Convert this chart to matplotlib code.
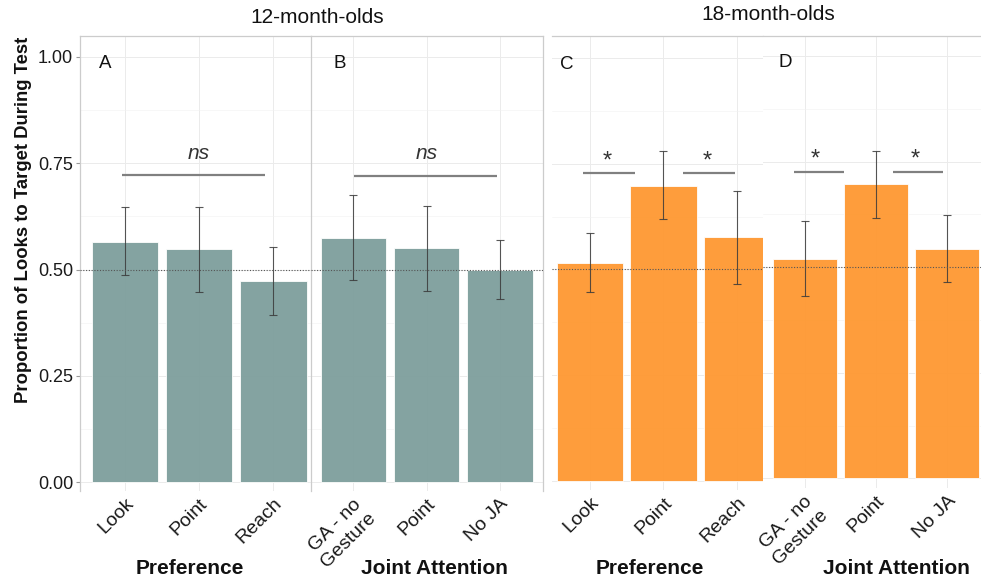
import numpy as np
import matplotlib
matplotlib.use("Agg")
import matplotlib.pyplot as plt
from matplotlib.ticker import MultipleLocator

plt.rcParams['font.family'] = ['Liberation Sans', 'DejaVu Sans']

# ---- data ----
cats_pref = ["Look", "Point", "Reach"]
cats_ja = ["GA - no\nGesture", "Point", "No JA"]

m12_pref = [0.565, 0.547, 0.474]
m12_pref_lo = [0.486, 0.447, 0.394]
m12_pref_hi = [0.646, 0.646, 0.553]

m12_ja = [0.575, 0.550, 0.500]
m12_ja_lo = [0.476, 0.450, 0.430]
m12_ja_hi = [0.674, 0.649, 0.570]

m18_pref = [0.516, 0.698, 0.576]
m18_pref_lo = [0.446, 0.618, 0.465]
m18_pref_hi = [0.587, 0.779, 0.685]

m18_ja = [0.520, 0.696, 0.544]
m18_ja_lo = [0.431, 0.617, 0.464]
m18_ja_hi = [0.610, 0.776, 0.623]

chance = 0.5

TEAL = "#80a09e"
ORANGE = "#fe9a35"
W, H = 981, 578

fig = plt.figure(figsize=(W / 100, H / 100), dpi=100)


def px_axes(x0, y0, x1, y1):
    return fig.add_axes([x0 / W, 1 - y1 / H, (x1 - x0) / W, (y1 - y0) / H])


def panel(ax, cats, means, lo, hi, color, xlim, ylim, letter, letter_x,
          spines=("left", "top", "right"), yticks=False):
    x = np.arange(len(cats))
    ax.set_xlim(xlim)
    ax.set_ylim(ylim)
    ax.yaxis.set_major_locator(MultipleLocator(0.25))
    ax.yaxis.set_minor_locator(MultipleLocator(0.125))
    ax.set_xticks(x)
    ax.grid(True, which="major", color="#ebebeb", lw=0.7, zorder=0)
    ax.grid(True, which="minor", axis="y", color="#f2f2f2", lw=0.4, zorder=0)
    ax.set_axisbelow(True)
    ax.bar(x, means, width=0.9, color=color, edgecolor="#ffffff", lw=0.6,
           alpha=0.97, zorder=2)
    err = [np.array(means) - np.array(lo), np.array(hi) - np.array(means)]
    ax.errorbar(x, means, yerr=err, fmt="none", ecolor="#3a3a3a", elinewidth=0.8,
                capsize=3, capthick=0.8, alpha=0.85, zorder=3)
    ax.axhline(chance, color="#555555", ls=(0, (1, 1.5)), lw=0.8, zorder=4)
    for s in ax.spines:
        ax.spines[s].set_visible(s in spines)
        ax.spines[s].set_color("#cccccc")
        ax.spines[s].set_linewidth(0.9)
    ax.set_xticklabels(cats, rotation=45, ha="right", va="top",
                       rotation_mode="anchor", multialignment="center",
                       fontsize=14, color="#1a1a1a")
    ax.tick_params(axis="x", length=0, pad=3)
    if yticks:
        ax.set_yticks([0, 0.25, 0.5, 0.75, 1.0])
        ax.set_yticklabels(["0.00", "0.25", "0.50", "0.75", "1.00"],
                           fontsize=13, color="#1a1a1a")
        ax.tick_params(axis="y", which="major", length=3, color="#999999", pad=2)
        ax.tick_params(axis="y", which="minor", length=0)
    else:
        ax.tick_params(axis="y", which="both", length=0, labelleft=False)
    ax.text(letter_x, 0.985, letter, fontsize=13.5, ha="center", va="center",
            color="#111111", zorder=6)
    return ax


def sig(ax, x0, x1, y, label, lx, ly, italic=False):
    ax.plot([x0, x1], [y, y], color="#808080", lw=1.6, zorder=5,
            solid_capstyle="butt")
    ax.text(lx, ly, label, ha="center", va="center", zorder=5,
            fontsize=15 if italic else 17, color="#333333",
            style="italic" if italic else "normal")


def xlabel(xc, text):
    fig.text(xc / W, 1 - 574 / H, text, fontsize=15, fontweight="bold",
             ha="center", va="baseline", color="#111111")


axA = px_axes(80, 36, 311, 491)
panel(axA, cats_pref, m12_pref, m12_pref_lo, m12_pref_hi, TEAL,
      (-0.608, 2.51), (-0.0204, 1.0486), "A", -0.27,
      spines=("left", "top"), yticks=True)
sig(axA, -0.04, 1.89, 0.723, "ns", 1.0, 0.773, italic=True)

axB = px_axes(311, 36, 543, 491)
panel(axB, cats_ja, m12_ja, m12_ja_lo, m12_ja_hi, TEAL,
      (-0.58, 2.593), (-0.0204, 1.0486), "B", -0.19)
sig(axB, 0.01, 1.97, 0.719, "ns", 1.0, 0.773, italic=True)

axC = px_axes(552, 36, 763, 490)
panel(axC, cats_pref, m18_pref, m18_pref_lo, m18_pref_hi, ORANGE,
      (-0.517, 2.354), (-0.022, 1.052), "C", -0.31, spines=("top",))
sig(axC, -0.09, 0.61, 0.727, "*", 0.23, 0.755)
sig(axC, 1.27, 1.97, 0.727, "*", 1.60, 0.755)

axD = px_axes(763, 36, 981, 488)
panel(axD, cats_ja, m18_ja, m18_ja_lo, m18_ja_hi, ORANGE,
      (-0.59, 2.48), (-0.0225, 1.047), "D", -0.27, spines=("top",))
sig(axD, -0.16, 0.55, 0.726, "*", 0.15, 0.754)
sig(axD, 1.24, 1.95, 0.726, "*", 1.56, 0.754)

xlabel(190, "Preference")
xlabel(434, "Joint Attention")
xlabel(650, "Preference")
xlabel(896, "Joint Attention")

fig.text(317.5 / W, 1 - 17.5 / H, "12-month-olds", fontsize=15,
         ha="center", va="center", color="#111111")
fig.text(768 / W, 1 - 15 / H, "18-month-olds", fontsize=15,
         ha="center", va="center", color="#111111")
fig.text(24 / W, 1 - 220 / H, "Proportion of Looks to Target During Test",
         rotation=90, fontsize=13.3, fontweight="bold", ha="center",
         va="center", color="#111111")

fig.savefig("out.png", dpi=100)
